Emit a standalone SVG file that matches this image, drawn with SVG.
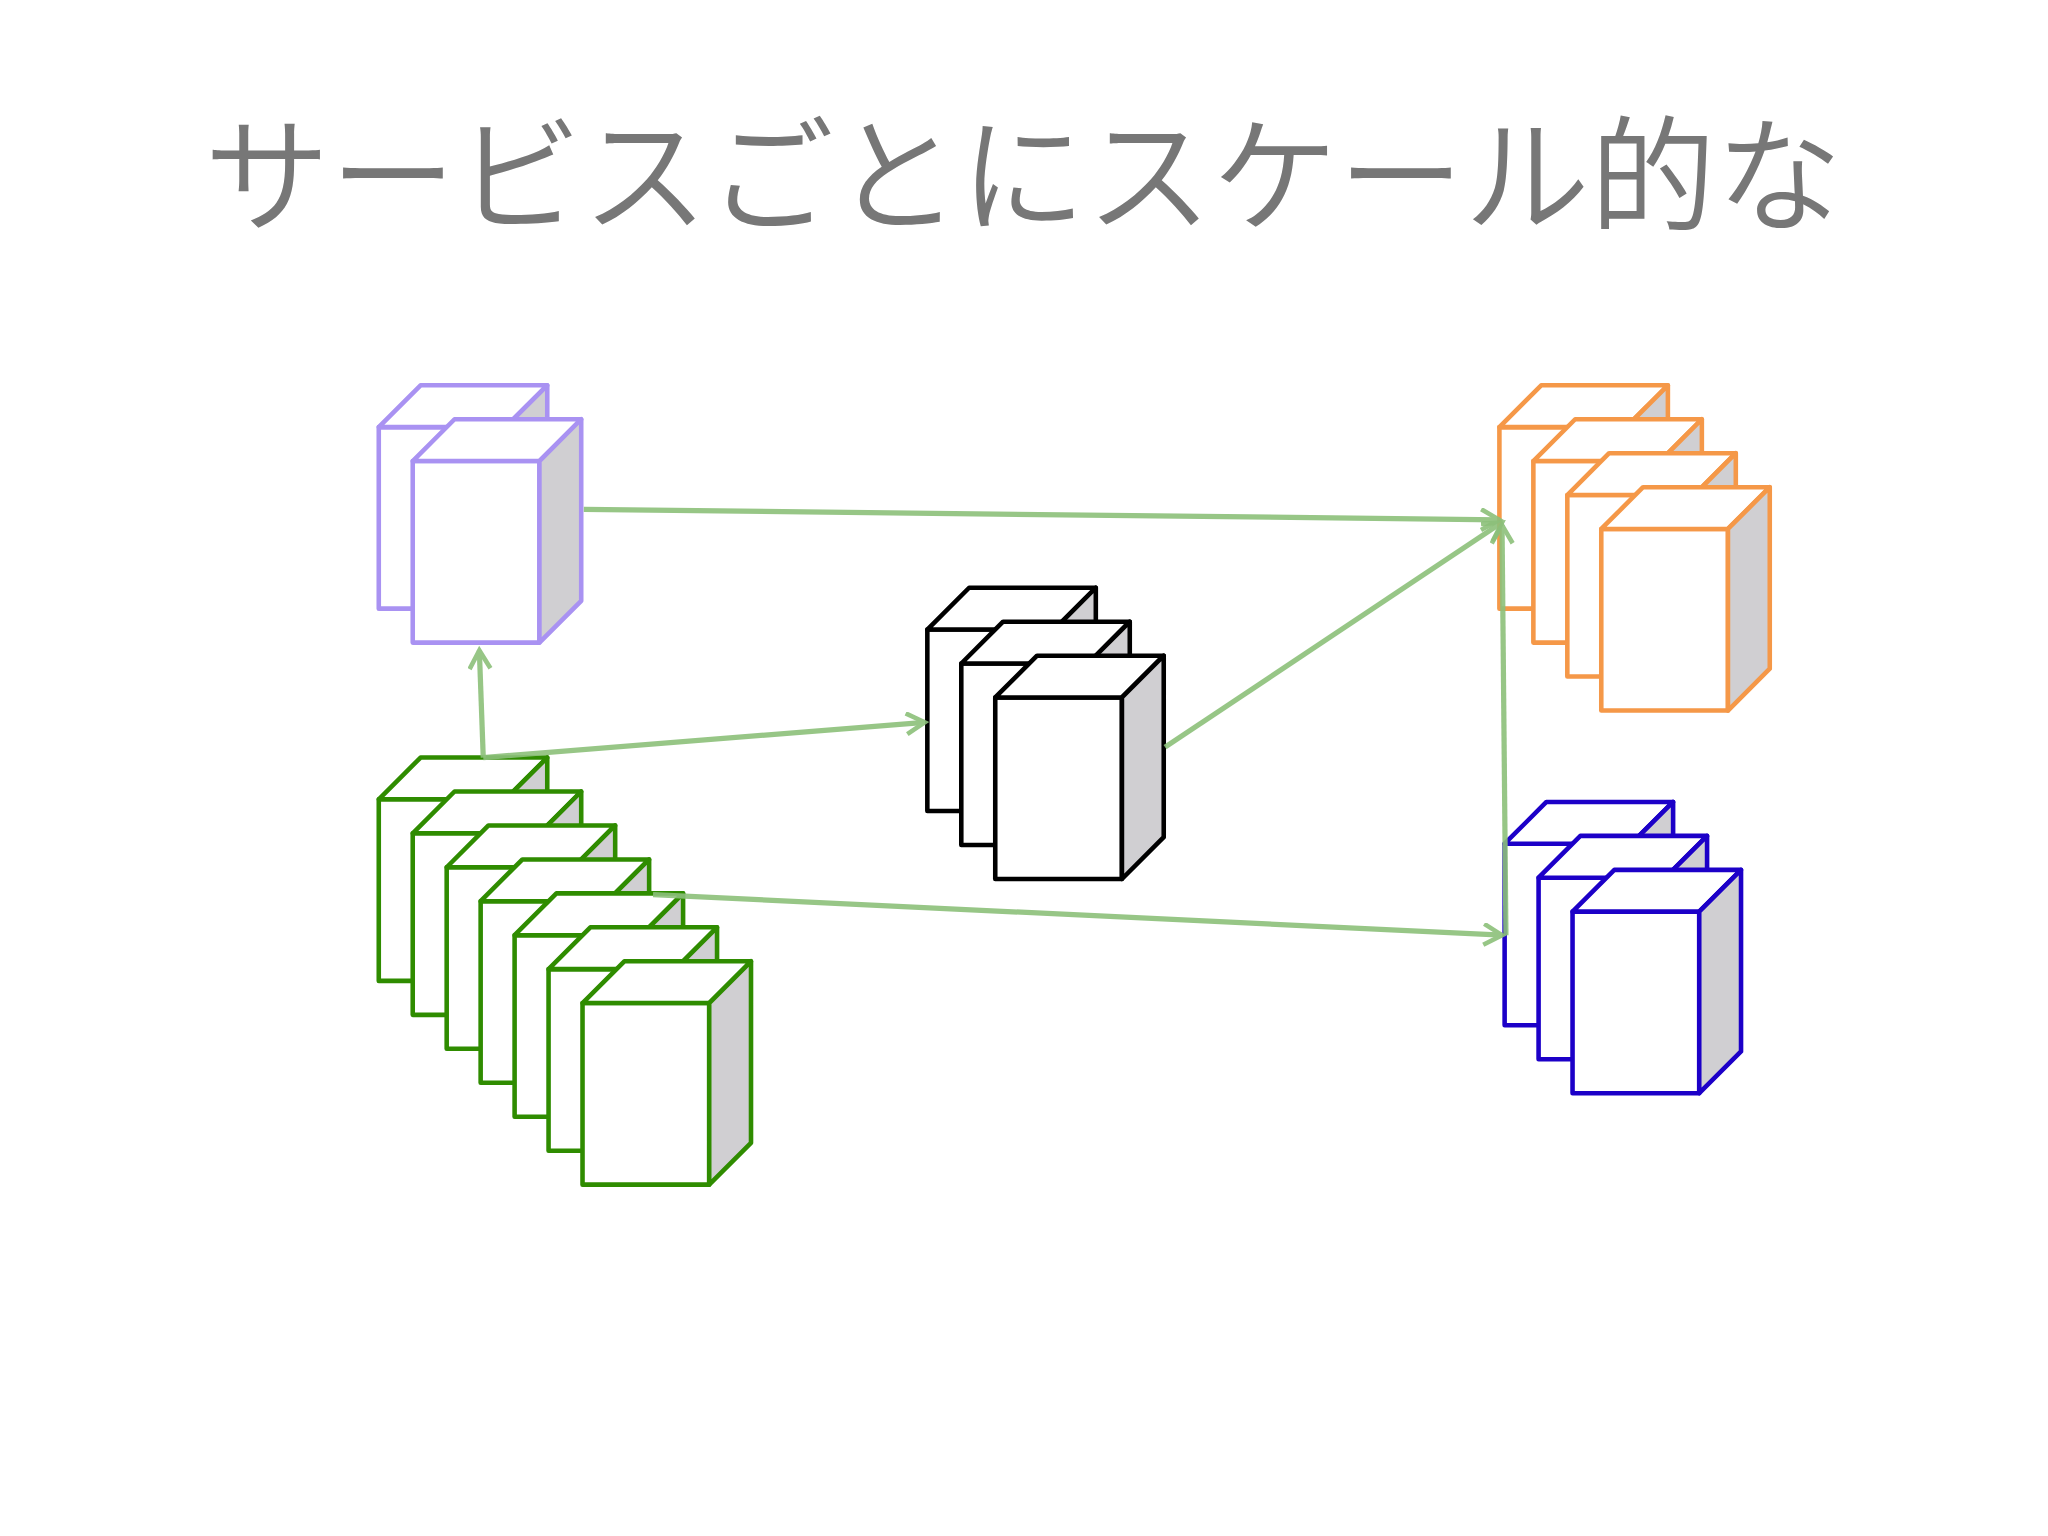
<svg xmlns="http://www.w3.org/2000/svg" width="2048" height="1536" viewBox="0 0 2048 1536">
<style>
.f{fill:#fff}.s{fill:#D0CFD2}
.p,.g,.k,.o,.b{stroke-width:3.5;stroke-linejoin:round}
.p{stroke:#A992F2}
.g{stroke:#2F8C00}
.k{stroke:#000}
.o{stroke:#F59848}
.b{stroke:#1C00C8}
.c{stroke:#8CC07A;stroke-width:4;fill:none;opacity:0.9;marker-end:url(#ah)}
</style>
<defs>
<marker id="ah" markerWidth="20" markerHeight="20" refX="16" refY="9" orient="auto" markerUnits="userSpaceOnUse">
<path d="M2,1 L16,9 L2,17" fill="none" stroke="#8CC07A" stroke-width="3.5"/>
</marker>
<g id="cube">
<rect class="f" x="0" y="0" width="97" height="139"/>
<polygon class="f" points="0,0 32,-32 129,-32 97,0"/>
<polygon class="s" points="97,0 129,-32 129,107 97,139"/>
</g>
</defs>
<rect width="2048" height="1536" fill="#fff"/>
<text x="1023" y="222" font-family="'Noto Sans CJK JP',sans-serif" font-weight="350" font-size="126" fill="#777" text-anchor="middle">サービスごとにスケール的な</text>
<g transform="scale(1.3061)">
<g id="purple" class="p">
<use href="#cube" x="290" y="327"/><use href="#cube" x="316" y="353"/>
</g>
<g id="green" class="g">
<use href="#cube" x="290" y="612"/><use href="#cube" x="316" y="638"/><use href="#cube" x="342" y="664"/><use href="#cube" x="368" y="690"/><use href="#cube" x="394" y="716"/><use href="#cube" x="420" y="742"/><use href="#cube" x="446" y="768"/>
</g>
<g id="black" class="k">
<use href="#cube" x="710" y="482"/><use href="#cube" x="736" y="508"/><use href="#cube" x="762" y="534"/>
</g>
<g id="orange" class="o">
<use href="#cube" x="1148" y="327"/><use href="#cube" x="1174" y="353"/><use href="#cube" x="1200" y="379"/><use href="#cube" x="1226" y="405"/>
</g>
<g id="blue" class="b">
<use href="#cube" x="1152" y="646"/><use href="#cube" x="1178" y="672"/><use href="#cube" x="1204" y="698"/>
</g>
<g id="connectors">
<path class="c" d="M447,390 L1148,398"/>
<path class="c" d="M370,580 L367,498"/>
<path class="c" d="M370,580 L708,553"/>
<path class="c" d="M892,572 L1150,400"/>
<path class="c" d="M500,685 L1150,716"/>
<path class="c" d="M1153,716 L1150,402"/>
</g>
</g>
</svg>
